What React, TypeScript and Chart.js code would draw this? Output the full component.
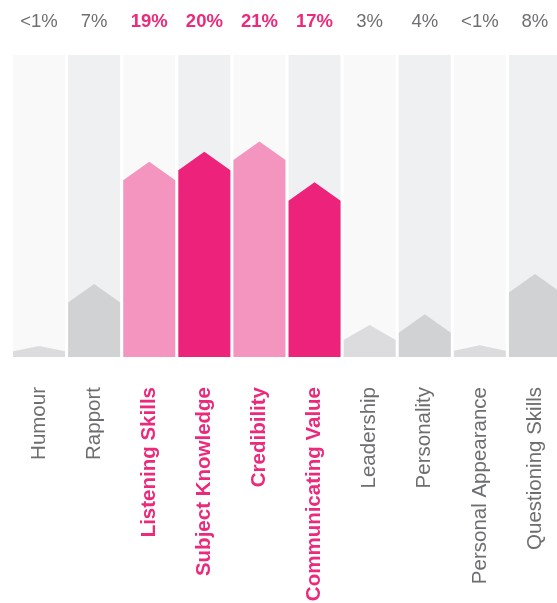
import React, { useEffect, useRef } from "react";
import { Chart, registerables } from "chart.js";

Chart.register(...registerables);

const categories = [
  "Humour",
  "Rapport",
  "Listening Skills",
  "Subject Knowledge",
  "Credibility",
  "Communicating Value",
  "Leadership",
  "Personality",
  "Personal Appearance",
  "Questioning Skills",
];
const values = [1.1, 7.25, 19.4, 20.4, 21.4, 17.35, 3.18, 4.24, 1.16, 8.25];
const valueLabels = ["<1%", "7%", "19%", "20%", "21%", "17%", "3%", "4%", "<1%", "8%"];
const highlighted = [false, false, true, true, true, true, false, false, false, false];
const Y_MAX = 30;
const backgroundValues = categories.map(() => Y_MAX);

const FONT = "'Liberation Sans', Arial, Helvetica, sans-serif";
const GRAY_TEXT = "#6d6e71";
const PINK_TEXT = "#ec297b";
const BG_LIGHT = "#f9f9f9";
const BG_DARK = "#eff0f2";
const HOUSE_GRAY_LIGHT = "#dcdcde";
const HOUSE_GRAY_DARK = "#d1d2d4";
const PINK_LIGHT = "#f395be";
const PINK_DARK = "#ed227b";

const bgColors = categories.map((_, i) => (i % 2 === 0 ? BG_LIGHT : BG_DARK));
const houseColors = categories.map((_, i) => {
  const even = i % 2 === 0;
  if (highlighted[i]) return even ? PINK_LIGHT : PINK_DARK;
  return even ? HOUSE_GRAY_LIGHT : HOUSE_GRAY_DARK;
});

const CANVAS_W = 570;
const CANVAS_H = 603;

const housePlugin = {
  id: "housePlugin",
  beforeDatasetDraw(chart: any, args: any) {
    if (args.index !== 1) return;
    const meta = chart.getDatasetMeta(1);
    const ctx = chart.ctx;
    ctx.save();
    meta.data.forEach((el: any, i: number) => {
      const { x, y, base, width } = el.getProps(["x", "y", "base", "width"], true);
      const h = base - y;
      const roof = Math.min(18.5, h * 0.47);
      const l = x - width / 2;
      const r = x + width / 2;
      ctx.beginPath();
      ctx.moveTo(l, base);
      ctx.lineTo(l, y + roof);
      ctx.lineTo(x, y);
      ctx.lineTo(r, y + roof);
      ctx.lineTo(r, base);
      ctx.closePath();
      ctx.fillStyle = houseColors[i];
      ctx.fill();
    });
    ctx.restore();
    return false;
  },
  afterDatasetsDraw(chart: any) {
    const meta = chart.getDatasetMeta(1);
    const ctx = chart.ctx;
    ctx.save();
    ctx.textAlign = "center";
    ctx.textBaseline = "alphabetic";
    meta.data.forEach((el: any, i: number) => {
      ctx.font = `${highlighted[i] ? "bold " : ""}18.5px ${FONT}`;
      ctx.fillStyle = highlighted[i] ? PINK_TEXT : GRAY_TEXT;
      ctx.fillText(valueLabels[i], el.x, 26.5);
    });
    ctx.restore();
  },
};

export default function App() {
  const ref = useRef<HTMLCanvasElement | null>(null);
  useEffect(() => {
    if (!ref.current) return;
    const chart = new Chart(ref.current, {
      type: "bar",
      data: {
        labels: categories,
        datasets: [
          {
            data: backgroundValues,
            backgroundColor: bgColors,
            grouped: false,
            order: 2,
            barPercentage: 0.944,
            categoryPercentage: 1,
          } as any,
          {
            data: values,
            backgroundColor: houseColors,
            grouped: false,
            order: 1,
            barPercentage: 0.944,
            categoryPercentage: 1,
          } as any,
        ],
      },
      options: {
        animation: false,
        responsive: false,
        maintainAspectRatio: false,
        layout: { padding: { left: 11.5, right: 7.5, top: 55, bottom: 0 } },
        plugins: { legend: { display: false }, tooltip: { enabled: false } },
        scales: {
          y: { display: false, min: 0, max: Y_MAX },
          x: {
            offset: true,
            border: { display: false },
            grid: { display: false, drawTicks: false },
            afterFit(scale: any) {
              scale.height = 246;
              scale.paddingLeft = 0;
              scale.paddingRight = 0;
            },
            ticks: {
              autoSkip: false,
              minRotation: 90,
              maxRotation: 90,
              padding: 30,
              color: (c: any) => (highlighted[c.index] ? PINK_TEXT : GRAY_TEXT),
              font: (c: any) => ({
                family: FONT,
                size: 20.5,
                weight: highlighted[c.index] ? "bold" : "normal",
              }),
            },
          },
        },
      },
      plugins: [housePlugin],
    });
    return () => chart.destroy();
  }, []);
  return (
    <div
      style={{
        position: "fixed",
        left: 0,
        top: 0,
        width: 557,
        height: 603,
        overflow: "hidden",
        background: "#ffffff",
      }}
    >
      <div style={{ position: "absolute", left: 0, top: 0, width: CANVAS_W, height: CANVAS_H }}>
        <canvas
          ref={ref}
          width={CANVAS_W}
          height={CANVAS_H}
          style={{ display: "block", width: CANVAS_W + "px", height: CANVAS_H + "px" }}
        />
      </div>
    </div>
  );
}
